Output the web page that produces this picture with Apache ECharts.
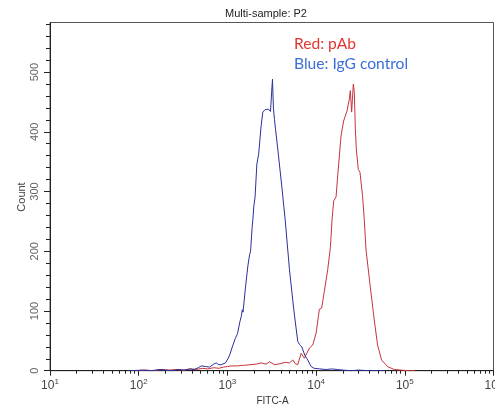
<!DOCTYPE html>
<html>
<head>
<meta charset="utf-8">
<script src="https://cdn.jsdelivr.net/npm/echarts@6/dist/echarts.min.js"></script>
<style>
html,body{margin:0;padding:0;background:#fff;}
#c{width:495px;height:406px;}
</style>
</head>
<body>
<div id="c"></div>
<script>
// ---- data ----
const xTickValues = [10, 100, 1000, 10000, 100000, 1000000];
const xTickExps = ['1', '2', '3', '4', '5', '6'];
const xMinorMultipliers = [2, 3, 4, 5, 6, 7, 8, 9];
const xMinorDecades = [10, 100, 1000, 10000, 100000];
const yTickValues = [0, 100, 200, 300, 400, 500];
const yMinorValues = [20, 40, 60, 80, 120, 140, 160, 180, 220, 240, 260, 280, 320, 340, 360, 380, 420, 440, 460, 480, 520, 540, 560, 580];

const blueX = [80, 110, 140, 170, 200, 240, 280, 330, 380, 420, 470, 510, 570, 630, 700, 750, 800, 850, 950, 1014, 1060, 1125, 1160, 1228, 1300, 1383, 1433, 1471, 1500, 1600, 1700, 1778, 1825, 1900, 1936, 1987, 2050, 2148, 2250, 2400, 2508, 2650, 2782, 2900, 3061, 3150, 3222, 3300, 3394, 3484, 3698, 4102, 4480, 5010, 5603, 6212, 6500, 6889, 7500, 8051, 8790, 9500, 11000, 13000, 15000, 17380, 20000, 25000, 30000, 40000, 60000];
const blueY = [0, 1, 0, 2, 1, 0, 2, 1, 3, 2, 5, 8, 7, 6, 11, 13, 10, 10, 13, 20, 26, 38, 36, 54, 62, 82, 91, 102, 98, 140, 175, 194, 200, 240, 253, 276, 290, 346, 362, 410, 433, 437, 439, 438, 434, 465, 488, 440, 421, 405, 371, 309, 253, 169, 102, 49, 44, 40, 25, 18, 7, 4, 3, 2, 3, 2, 1, 0, 1, 0, 0];

const redX = [90, 120, 150, 180, 220, 270, 320, 380, 450, 520, 600, 700, 800, 900, 1005, 1100, 1303, 1450, 1561, 1800, 2113, 2405, 2739, 2985, 3399, 4037, 4500, 5011, 5460, 5800, 6210, 6778, 7385, 8410, 9163, 10010, 10620, 10890, 11560, 12390, 13510, 14480, 15130, 15780, 16790, 17510, 19100, 20430, 22320, 23700, 24320, 25150, 25800, 26290, 26980, 27690, 28420, 29900, 31260, 32910, 33430, 34920, 36500, 40790, 45240, 49330, 54720, 63880, 75960, 90360, 111900, 130000];
const redY = [0, 1, 0, 2, 1, 2, 1, 3, 2, 4, 3, 5, 4, 6, 7, 8, 8, 9, 9, 10, 11, 13, 11, 15, 10, 12, 14, 13, 18, 12, 10, 29, 21, 38, 43, 63, 91, 103, 105, 133, 169, 206, 253, 284, 291, 326, 393, 418, 435, 455, 469, 433, 460, 480, 466, 405, 371, 337, 332, 335, 292, 253, 203, 141, 85, 43, 18, 7, 2, 1, 0, 0];

const titleText = 'Multi-sample: P2';
const xName = 'FITC-A';
const yName = 'Count';
const legendRed = 'Red: pAb';
const legendBlue = 'Blue: IgG control';

// ---- build ----
const xMinorValues = [];
xMinorDecades.forEach(d => xMinorMultipliers.forEach(m => xMinorValues.push(d * m)));
const pair = (xs, ys) => xs.map((x, i) => [x, ys[i]]);

const numFont = "'Liberation Sans Narrow', 'Liberation Sans', Arial, sans-serif";
const txtFont = "'Liberation Sans', Arial, sans-serif";

const chart = echarts.init(document.getElementById('c'), null, {renderer: 'canvas'});
chart.setOption({
  animation: false,
  backgroundColor: '#fff',
  grid: {left: 50, right: 1.5, top: 22.5, bottom: 35.3, show: true, borderColor: '#555', borderWidth: 1, containLabel: false, outerBoundsMode: 'none'},
  xAxis: [{
    type: 'log', logBase: 10, min: 10, max: 1000000, position: 'bottom',
    axisLine: {show: true, onZero: false, lineStyle: {color: '#222', width: 1}},
    axisTick: {show: true, inside: false, length: 5, customValues: xTickValues, lineStyle: {color: '#222'}},
    splitLine: {show: false},
    axisLabel: {
      show: true, margin: 7, customValues: xTickValues,
      formatter: function (v) {
        const i = xTickValues.indexOf(v);
        const e = i >= 0 ? xTickExps[i] : String(Math.round(Math.log10(v)));
        return '{b|10}{s|' + e + '}';
      },
      rich: {
        b: {fontSize: 12, fontFamily: numFont, color: '#444'},
        s: {fontSize: 8, fontFamily: numFont, color: '#444', padding: [0, 0, 8, 0]}
      }
    }
  }, {
    type: 'log', logBase: 10, min: 10, max: 1000000, position: 'bottom', offset: 0,
    axisLine: {show: false},
    axisTick: {show: true, inside: false, length: 3, customValues: xMinorValues, lineStyle: {color: '#222'}},
    axisLabel: {show: false},
    splitLine: {show: false}
  }],
  yAxis: [{
    type: 'value', min: 0, max: 583, position: 'left',
    axisLine: {show: true, onZero: false, lineStyle: {color: '#222', width: 1}},
    axisTick: {show: true, inside: false, length: 6, customValues: yTickValues, lineStyle: {color: '#222'}},
    splitLine: {show: false},
    axisLabel: {show: true, rotate: 90, margin: 10, customValues: yTickValues, fontSize: 11, fontFamily: numFont, color: '#666'}
  }, {
    type: 'value', min: 0, max: 583, position: 'left', offset: 0,
    axisLine: {show: false},
    axisTick: {show: true, inside: false, length: 4, customValues: yMinorValues, lineStyle: {color: '#222'}},
    axisLabel: {show: false},
    splitLine: {show: false}
  }],
  series: [{
    name: 'IgG control', type: 'line', xAxisIndex: 0, yAxisIndex: 0,
    data: pair(blueX, blueY), showSymbol: false, symbol: 'none',
    lineStyle: {color: '#2b2f9e', width: 1}, z: 3
  }, {
    name: 'pAb', type: 'line', xAxisIndex: 0, yAxisIndex: 0,
    data: pair(redX, redY), showSymbol: false, symbol: 'none',
    lineStyle: {color: '#c8323c', width: 1}, z: 2
  }],
  graphic: [
    {type: 'text', x: 266, y: 14, style: {text: titleText, font: '11px ' + txtFont, fill: '#222', textAlign: 'center', textVerticalAlign: 'middle'}},
    {type: 'text', x: 272.5, y: 401, style: {text: xName, font: '10px ' + txtFont, fill: '#333', textAlign: 'center', textVerticalAlign: 'middle'}},
    {type: 'text', x: 21.5, y: 197, rotation: Math.PI / 2, style: {text: yName, font: '11px ' + txtFont, fill: '#444', textAlign: 'center', textVerticalAlign: 'middle'}},
    {type: 'text', x: 294, y: 44.4, style: {text: legendRed, font: '15.6px Lato, "Open Sans", sans-serif', fill: '#e5352f', textAlign: 'left', textVerticalAlign: 'middle'}},
    {type: 'text', x: 294, y: 63.7, style: {text: legendBlue, font: '15.6px Lato, "Open Sans", sans-serif', fill: '#3b6fd8', textAlign: 'left', textVerticalAlign: 'middle'}}
  ]
});
</script>
</body>
</html>
